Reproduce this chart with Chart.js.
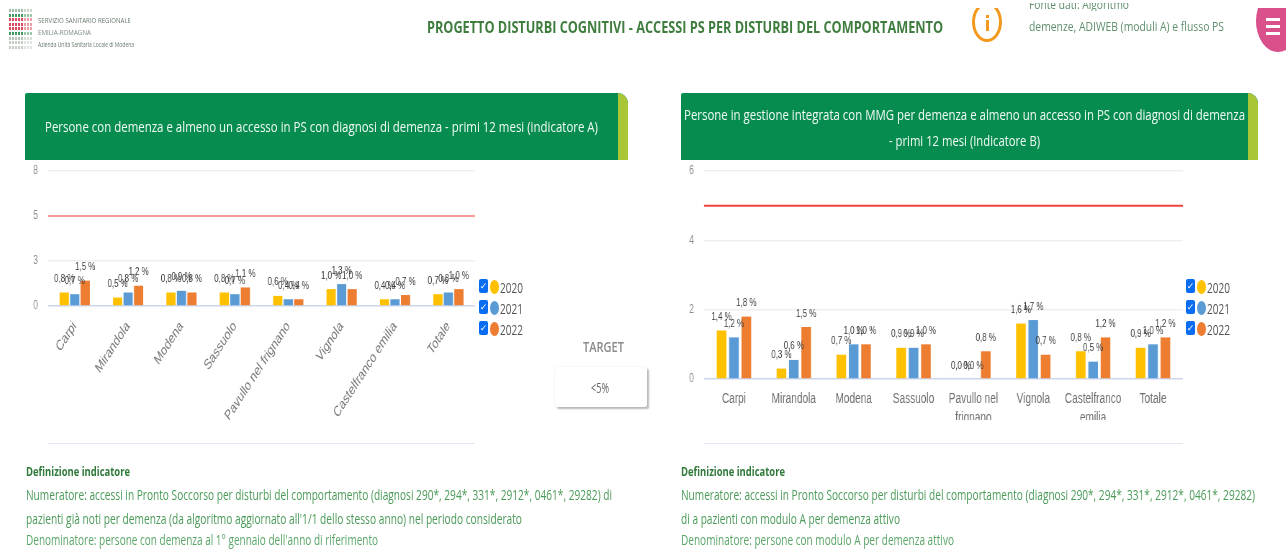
<!DOCTYPE html>
<html lang="it"><head><meta charset="utf-8">
<script src="https://cdn.jsdelivr.net/npm/chart.js@4/dist/chart.umd.min.js"></script>
<style>
html,body{margin:0;padding:0;background:#fff;width:1286px;height:549px;overflow:hidden}
#page{position:absolute;left:0;top:0;width:1286px;height:549px;overflow:hidden;filter:blur(.6px);font-family:"Open Sans",sans-serif}
.t{position:absolute;white-space:nowrap;transform-origin:0 50%;line-height:1}
.abs{position:absolute}
canvas{position:absolute;transform-origin:0 0}
.card{position:absolute;top:93px;height:67px;background:#068c4f;border-radius:2px 10px 0 0;overflow:hidden}
.card i{position:absolute;right:0;top:0;bottom:0;width:10px;background:#a9c636;border-radius:0 10px 0 0}
.rule{position:absolute;top:443px;height:1px;background:#e6e6f2}
.cb{position:absolute;width:9px;height:14px;background:#0a6cf0;border-radius:2px;color:#fff;font:bold 9px/14px "DejaVu Sans";text-align:center}
.dot{position:absolute;width:9px;height:14px;border-radius:50%}
</style></head><body>
<div id="page">
<div id="logo" class="abs" style="left:9px;top:9px;width:26px;height:41px"></div>
<div class="t" data-w="93" style="left:38px;top:16px;font-size:8px;color:#667a6c">SERVIZIO SANITARIO REGIONALE</div>
<div class="t" data-w="53" style="left:38px;top:28px;font-size:8px;color:#7b8a80">EMILIA-ROMAGNA</div>
<div class="t" data-w="96" style="left:38px;top:41px;font-size:7px;color:#667a6c">Azienda Unità Sanitaria Locale di Modena</div>
<div class="t" data-w="516" style="left:427px;top:19px;font-size:16px;font-weight:700;color:#3f7d3f">PROGETTO DISTURBI COGNITIVI - ACCESSI PS PER DISTURBI DEL COMPORTAMENTO</div>

<div class="abs" style="left:972px;top:8px;width:30px;height:34px;overflow:hidden">
  <div class="abs" style="left:0;top:-6px;width:24px;height:34px;border:3px solid #f39a1e;border-radius:50%"></div>
  <div class="abs" style="left:14px;top:7px;width:3px;height:3px;background:#f39a1e"></div>
  <div class="abs" style="left:14px;top:12px;width:3px;height:11px;background:#f39a1e"></div>
</div>
<div class="abs" style="left:1020px;top:3px;width:220px;height:8px;overflow:hidden"><div class="t" data-w="100" style="left:9px;top:-5px;font-size:13px;color:#5f8f6c">Fonte dati: Algoritmo</div></div>
<div class="t" data-w="195" style="left:1029px;top:20px;font-size:13px;color:#5f8f6c">demenze, ADIWEB (moduli A) e flusso PS</div>
<div class="abs" style="left:1256px;top:8px;width:44px;height:44px;overflow:hidden">
  <div class="abs" style="left:0;top:-18px;width:44px;height:62px;border-radius:50%;background:#d9508a"></div>
  <div class="abs" style="left:10px;top:10px;width:14px;height:3px;background:#fff"></div>
  <div class="abs" style="left:10px;top:17px;width:14px;height:3px;background:#fff"></div>
  <div class="abs" style="left:10px;top:24px;width:14px;height:3px;background:#fff"></div>
</div>

<div class="card" style="left:25px;width:603px"><i></i></div>
<div class="t" data-w="553" style="left:45px;top:120px;font-size:14px;color:#f2fbf5">Persone con demenza e almeno un accesso in PS con diagnosi di demenza - primi 12 mesi (indicatore A)</div>
<div class="card" style="left:681px;width:577px"><i></i></div>
<div class="t" data-w="561" style="left:684px;top:108px;font-size:14px;color:#f2fbf5">Persone in gestione integrata con MMG per demenza e almeno un accesso in PS con diagnosi di demenza</div>
<div class="t" data-w="151" style="left:889px;top:134px;font-size:14px;color:#f2fbf5">- primi 12 mesi (Indicatore B)</div>

<canvas id="chartA" style="left:20px;top:160px"></canvas>
<canvas id="chartB" style="left:676px;top:160px"></canvas>
<div class="rule" style="left:48px;width:427px"></div>
<div class="rule" style="left:704px;width:479px"></div>
<div id="legendA"></div><div id="legendB"></div>

<div class="t" data-w="41" style="left:583px;top:339px;font-size:15px;font-weight:600;color:#8a8a8a">TARGET</div>
<div class="abs" style="left:555px;top:367px;width:92px;height:40px;background:#fff;border-radius:2px;box-shadow:2px 2px 2px #b9b9b9,0 0 2px #e4e4e4"></div>
<div class="t" data-w="18" style="left:591px;top:380px;font-size:15px;color:#666">&lt;5%</div>

<div class="t" data-w="104" style="left:26px;top:465px;font-size:13px;font-weight:700;color:#2f7a3a">Definizione indicatore</div>
<div class="t" data-w="586" style="left:26px;top:488px;font-size:14px;color:#4a9a58">Numeratore: accessi in Pronto Soccorso per disturbi del comportamento (diagnosi 290*, 294*, 331*, 2912*, 0461*, 29282) di</div>
<div class="t" data-w="496" style="left:26px;top:512px;font-size:14px;color:#4a9a58">pazienti già noti per demenza (da algoritmo aggiornato all'1/1 dello stesso anno) nel periodo considerato</div>
<div class="t" data-w="352" style="left:26px;top:533px;font-size:14px;color:#5aa568">Denominatore: persone con demenza al 1° gennaio dell'anno di riferimento</div>

<div class="t" data-w="104" style="left:681px;top:465px;font-size:13px;font-weight:700;color:#2f7a3a">Definizione indicatore</div>
<div class="t" data-w="574" style="left:681px;top:488px;font-size:14px;color:#4a9a58">Numeratore: accessi in Pronto Soccorso per disturbi del comportamento (diagnosi 290*, 294*, 331*, 2912*, 0461*, 29282)</div>
<div class="t" data-w="219" style="left:681px;top:512px;font-size:14px;color:#4a9a58">di a pazienti con modulo A per demenza attivo</div>
<div class="t" data-w="273" style="left:681px;top:533px;font-size:14px;color:#5aa568">Denominatore: persone con modulo A per demenza attivo</div>
</div>
<script>
const years = ["2020","2021","2022"];
const seriesColors = ["#ffc000","#5b9bd5","#ed7d31"];

const categoriesA = ["Carpi","Mirandola","Modena","Sassuolo","Pavullo nel frignano","Vignola","Castelfranco emilia","Totale"];
const a2020 = [0.8,0.5,0.8,0.8,0.6,1.0,0.4,0.7];
const a2021 = [0.7,0.8,0.9,0.7,0.4,1.3,0.4,0.8];
const a2022 = [1.5,1.2,0.8,1.1,0.4,1.0,0.65,1.0];
const ticksA = [0,2.67,5.33,8];
const targetA = 5.33;

const categoriesB = ["Carpi","Mirandola","Modena","Sassuolo",["Pavullo nel","frignano"],"Vignola",["Castelfranco","emilia"],"Totale"];
const b2020 = [1.4,0.3,0.7,0.9,0.0,1.6,0.8,0.9];
const b2021 = [1.2,0.55,1.0,0.9,0.0,1.7,0.5,1.0];
const b2022 = [1.8,1.5,1.0,1.0,0.8,0.7,1.2,1.2];
const ticksB = [0,2,4,6];
const targetB = 5;

Chart.defaults.animation = false;
const FONT = '"Liberation Sans",sans-serif';
const K = 0.72; // the reference is squeezed horizontally: canvases are drawn wide and narrowed

const valueLabels = {
  id:"valueLabels",
  afterDatasetsDraw(chart,args,opts){
    const c = chart.ctx, a = chart.chartArea, yp = chart.scales.y.getPixelForValue(opts.target);
    c.save();
    c.strokeStyle = opts.lineColor; c.lineWidth = 2;
    c.beginPath(); c.moveTo(a.left,yp); c.lineTo(a.right,yp); c.stroke();
    c.font = "11px "+FONT; c.fillStyle = "#3a3a3a";
    c.textAlign = "center"; c.textBaseline = "bottom";
    chart.data.datasets.forEach((ds,i)=>{
      chart.getDatasetMeta(i).data.forEach((el,j)=>{
        c.fillText(ds.data[j].toFixed(1).replace(".",",")+" %", el.x, el.y-8);
      });
    });
    c.restore();
  }
};

function build(id,cats,vals,ticks,target,lineColor,cfg){
  const cv=document.getElementById(id);
  new Chart(cv,{
    type:"bar",
    data:{labels:cats,datasets:vals.map((v,i)=>({label:years[i],data:v,backgroundColor:seriesColors[i],
        barPercentage:cfg.bar,categoryPercentage:cfg.cat}))},
    options:{responsive:false,
      layout:{padding:{top:11,right:cfg.right/K,left:0,bottom:0}},
      plugins:{legend:{display:false},tooltip:{enabled:false},valueLabels:{target,lineColor}},
      scales:{
        x:{grid:{display:false},border:{display:false},
           afterFit(s){s.height=cfg.xh;s.paddingLeft=0;s.paddingRight=0;},
           ticks:{autoSkip:false,maxRotation:cfg.rot,minRotation:cfg.rot,padding:cfg.pad,color:cfg.tickColor,
                  font:{family:FONT,size:cfg.xfont,lineHeight:cfg.lh}}},
        y:{min:0,max:ticks[ticks.length-1],
           afterBuildTicks(s){s.ticks=ticks.map(v=>({value:v}));},
           afterFit(s){s.width=28/K;s.paddingTop=0;s.paddingBottom=0;},
           grid:{drawTicks:false,lineWidth:1.5,color:c=>c.tick&&c.tick.value===0?"#ccd6eb":"#efefef"},
           border:{display:false},
           ticks:{padding:10/K,color:"#8a8a8a",font:{family:FONT,size:12},callback:v=>String(Math.round(v))}}
      }
    },
    plugins:[valueLabels]
  });
  cv.style.transform=`scaleX(${K})`;
}
Object.assign(document.getElementById("chartA"),{width:Math.round(460/K),height:262});
Object.assign(document.getElementById("chartB"),{width:Math.round(512/K),height:260});
build("chartA",categoriesA,[a2020,a2021,a2022],ticksA,targetA,"#f59a9a",
  {bar:.88,cat:.59,right:5,xh:116,rot:48,pad:4,xfont:14.5,lh:1.2,tickColor:"#777777"});
build("chartB",categoriesB,[b2020,b2021,b2022],ticksB,targetB,"#ee4440",
  {bar:.78,cat:.62,right:5,xh:41,rot:0,pad:3,xfont:14,lh:1.35,tickColor:"#6d6d6d"});

function legend(host,xBox){
  const ys=[279,300,321];
  years.forEach((y,i)=>{
    const cb=document.createElement("div");cb.className="cb";cb.textContent="\u2713";
    cb.style.left=xBox+"px";cb.style.top=ys[i]+"px";host.appendChild(cb);
    const d=document.createElement("div");d.className="dot";d.style.left=(xBox+11)+"px";d.style.top=(ys[i]+1)+"px";
    d.style.background=seriesColors[i];host.appendChild(d);
    const t=document.createElement("div");t.className="t";t.textContent=y;t.dataset.w=23;
    t.style.cssText+=`left:${xBox+21}px;top:${ys[i]+1}px;font-size:15px;color:#555`;host.appendChild(t);
  });
}
legend(document.getElementById("legendA"),479);
legend(document.getElementById("legendB"),1186);

const logo=document.getElementById("logo");
const rowCol=["#9db8a4","#3f9a5f","#d8485a","#d8485a","#d8485a","#3f9a5f","#b5c4ba","#c2cdc6","#c2cdc6"];
rowCol.forEach((col,r)=>{for(let k=0;k<8;k++){const s=document.createElement("div");s.className="abs";
  s.style.cssText=`left:${k*3}px;top:${r*4.6}px;width:2.2px;height:3px;background:${col};opacity:${k>4?.55:1}`;logo.appendChild(s);}});

document.fonts.ready.then(()=>{
  document.querySelectorAll(".t[data-w]").forEach(e=>{
    const w=e.getBoundingClientRect().width;
    e.style.transform=`scaleX(${(+e.dataset.w)/w})`;
  });
});
</script>
</body></html>
